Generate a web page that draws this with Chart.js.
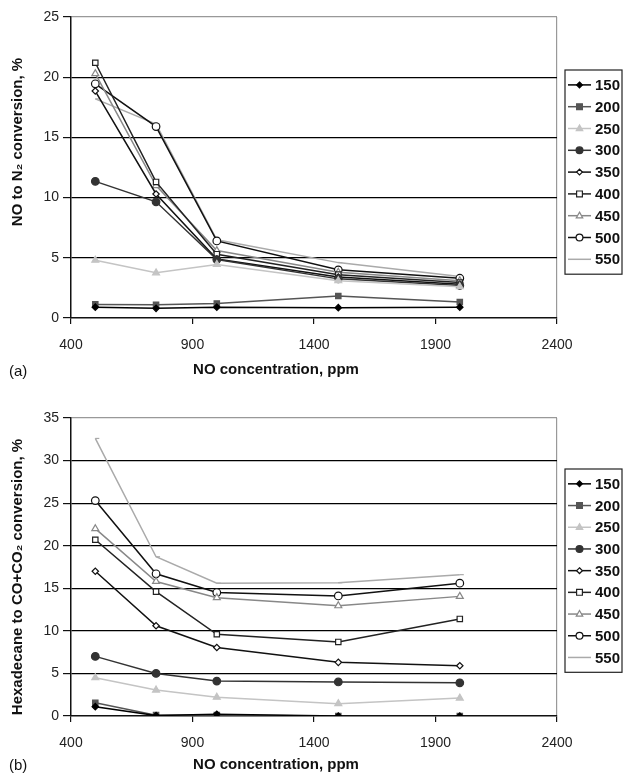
<!DOCTYPE html>
<html>
<head>
<meta charset="utf-8">
<script src="https://cdn.jsdelivr.net/npm/chart.js@4.4.1/dist/chart.umd.min.js"></script>
<style>
  body { margin: 0; background: #fff; }
  .panel { position: absolute; left: 0; width: 623px; height: 389px; }
  #panelA { top: 0; }
  #panelB { top: 389px; }
</style>
</head>
<body>
<div class="panel" id="panelA"><canvas id="chartA" width="623" height="389"></canvas></div>
<div class="panel" id="panelB"><canvas id="chartB" width="623" height="389"></canvas></div>
<script>
// data
const concentrations = [500, 750, 1000, 1500, 2000];   // NO concentration, ppm
const temperatures = ['150', '200', '250', '300', '350', '400', '450', '500', '550'];
const xTicks = [400, 900, 1400, 1900, 2400];
const yTicksA = [0, 5, 10, 15, 20, 25];
const yTicksB = [0, 5, 10, 15, 20, 25, 30, 35];

// (a) NO to N2 conversion, %
const noToN2 = {
  '150': [0.9, 0.8, 0.9, 0.86, 0.9],
  '200': [1.13, 1.1, 1.2, 1.83, 1.33],
  '250': [4.8, 3.75, 4.45, 3.1, 2.6],
  '300': [11.35, 9.65, 4.85, 3.25, 2.7],
  '350': [18.85, 10.3, 4.9, 3.4, 2.8],
  '400': [21.2, 11.3, 5.3, 3.6, 2.95],
  '450': [20.3, 11.0, 5.6, 3.8, 3.1],
  '500': [19.45, 15.9, 6.4, 4.0, 3.3],
  '550': [18.2, 16.1, 6.5, 4.6, 3.45]
};

// (b) Hexadecane to CO+CO2 conversion, %
const hexToCOx = {
  '150': [1.1, 0.05, 0.2, 0.0, 0.0],
  '200': [1.55, 0.1, 0.1, 0.0, 0.0],
  '250': [4.5, 3.05, 2.2, 1.45, 2.1],
  '300': [7.0, 5.0, 4.1, 4.0, 3.9],
  '350': [17.0, 10.6, 8.05, 6.3, 5.9],
  '400': [20.7, 14.6, 9.6, 8.7, 11.4],
  '450': [22.0, 15.8, 13.9, 12.95, 14.05],
  '500': [25.3, 16.7, 14.5, 14.1, 15.6],
  '550': [32.6, 18.7, 15.6, 15.65, 16.6]
};

// marker look of each series
const seriesStyle = {
  '150': { color: '#000', style: 'rectRot', radius: 3.2, fill: '#000' },
  '200': { color: '#555', style: 'rect', radius: 3.8, fill: '#555' },
  '250': { color: '#c4c4c4', style: 'triangle', radius: 4, fill: '#c4c4c4' },
  '300': { color: '#333', style: 'circle', radius: 3.8, fill: '#333' },
  '350': { color: '#111', style: 'rectRot', radius: 3.2, fill: '#fff' },
  '400': { color: '#222', style: 'rect', radius: 3.8, fill: '#fff' },
  '450': { color: '#888', style: 'triangle', radius: 4, fill: '#fff' },
  '500': { color: '#111', style: 'circle', radius: 3.8, fill: '#fff' },
  '550': { color: '#aaa', style: 'dash', radius: 4, fill: '#aaa' }
};

function buildDatasets(values) {
  return temperatures.map(t => ({
    label: t,
    data: concentrations.map((c, i) => ({ x: c, y: values[t][i] })),
    borderColor: seriesStyle[t].color,
    borderWidth: 1.5,
    pointStyle: seriesStyle[t].style,
    pointRadius: seriesStyle[t].radius,
    pointBackgroundColor: seriesStyle[t].fill,
    pointBorderColor: seriesStyle[t].color,
    pointBorderWidth: 1.2,
    tension: 0
  }));
}

// small marker drawer for the boxed legend
function drawMarker(ctx, style, r, x, y, fill, stroke) {
  ctx.save();
  ctx.fillStyle = fill;
  ctx.strokeStyle = stroke;
  ctx.lineWidth = 1.2;
  ctx.beginPath();
  if (style === 'circle') {
    ctx.arc(x, y, r, 0, Math.PI * 2);
  } else if (style === 'rect') {
    ctx.rect(x - r * 0.85, y - r * 0.85, r * 1.7, r * 1.7);
  } else if (style === 'rectRot') {
    ctx.moveTo(x, y - r); ctx.lineTo(x + r, y); ctx.lineTo(x, y + r); ctx.lineTo(x - r, y); ctx.closePath();
  } else if (style === 'triangle') {
    ctx.moveTo(x, y - r); ctx.lineTo(x + r * 0.9, y + r * 0.6); ctx.lineTo(x - r * 0.9, y + r * 0.6); ctx.closePath();
  } else {
    ctx.restore();
    return;
  }
  ctx.fill();
  ctx.stroke();
  ctx.restore();
}

const figureText = {
  id: 'figureText',
  afterDraw(chart, args, opts) {
    const ctx = chart.ctx;
    ctx.save();
    ctx.fillStyle = '#111';
    // y axis title
    ctx.font = 'bold 15px "Liberation Sans", Arial, sans-serif';
    ctx.textAlign = 'center';
    ctx.textBaseline = 'middle';
    ctx.save();
    ctx.translate(opts.yTitleX, opts.yTitleY);
    ctx.rotate(-Math.PI / 2);
    ctx.fillText(opts.yTitle, 0, 0);
    ctx.restore();
    // x axis title
    ctx.fillText(opts.xTitle, opts.xTitleX, opts.xTitleY);
    // panel tag
    ctx.font = '15px "Liberation Sans", Arial, sans-serif';
    ctx.textAlign = 'left';
    ctx.fillText(opts.tag, 9, opts.tagY);

    // boxed legend
    const lg = opts.legend;
    const sets = chart.data.datasets;
    ctx.strokeStyle = '#222';
    ctx.lineWidth = 1.2;
    ctx.strokeRect(lg.left, lg.top, lg.width, lg.rowH * sets.length + 8);
    sets.forEach((ds, i) => {
      const y = lg.top + 4 + lg.rowH * (i + 0.5);
      ctx.strokeStyle = ds.borderColor;
      ctx.lineWidth = 1.5;
      ctx.beginPath();
      ctx.moveTo(lg.left + 3, y);
      ctx.lineTo(lg.left + 26, y);
      ctx.stroke();
      drawMarker(ctx, ds.pointStyle, ds.pointRadius * 0.9, lg.left + 14.5, y, ds.pointBackgroundColor, ds.pointBorderColor);
      ctx.fillStyle = '#111';
      ctx.font = 'bold 15px "Liberation Sans", Arial, sans-serif';
      ctx.textAlign = 'left';
      ctx.textBaseline = 'middle';
      ctx.fillText(ds.label, lg.left + 30, y + 1);
    });
    ctx.restore();
  }
};

function makeChart(canvasId, values, yMax, yTicks, plotTop, textOpts) {
  const plotBottom = plotTop + (yMax === 25 ? 301 : 298);
  return new Chart(document.getElementById(canvasId), {
    type: 'line',
    data: { datasets: buildDatasets(values) },
    plugins: [figureText],
    options: {
      responsive: false,
      animation: false,
      devicePixelRatio: 1,
      layout: { padding: { top: plotTop, left: 0, right: 66, bottom: 0 } },
      plugins: {
        legend: { display: false },
        tooltip: { enabled: false },
        figureText: textOpts
      },
      scales: {
        x: {
          type: 'linear',
          min: 400,
          max: 2400,
          afterBuildTicks: s => { s.ticks = xTicks.map(v => ({ value: v })); },
          afterFit: s => { s.height = 389 - plotBottom; },
          ticks: {
            color: '#222',
            font: { size: 14, family: '"Liberation Sans", Arial, sans-serif' },
            padding: 13,
            maxRotation: 0,
            callback: v => String(v)
          },
          grid: {
            color: c => (c.tick && c.tick.value === 2400) ? '#999' : 'rgba(0,0,0,0)',
            tickColor: '#111',
            tickLength: 6,
            lineWidth: 1.2
          },
          border: { color: '#111', width: 1.5 }
        },
        y: {
          min: 0,
          max: yMax,
          afterBuildTicks: s => { s.ticks = yTicks.map(v => ({ value: v })); },
          afterFit: s => { s.width = 71; },
          ticks: {
            color: '#222',
            font: { size: 14, family: '"Liberation Sans", Arial, sans-serif' },
            padding: 4,
            callback: v => String(v)
          },
          grid: {
            color: c => {
              if (!c.tick) return '#000';
              if (c.tick.value === yMax) return '#999';
              if (c.tick.value === 0) return 'rgba(0,0,0,0)';
              return '#000';
            },
            tickColor: '#111',
            tickLength: 8,
            lineWidth: 1.2
          },
          border: { color: '#111', width: 1.5 }
        }
      }
    }
  });
}

makeChart('chartA', noToN2, 25, yTicksA, 17, {
  yTitle: 'NO to N\u2082 conversion, %',
  yTitleX: 18, yTitleY: 142,
  xTitle: 'NO concentration, ppm',
  xTitleX: 276, xTitleY: 370,
  tag: '(a)', tagY: 372,
  legend: { left: 565, top: 70, width: 57, rowH: 21.8 }
});

makeChart('chartB', hexToCOx, 35, yTicksB, 29, {
  yTitle: 'Hexadecane to CO+CO\u2082 conversion, %',
  yTitleX: 18, yTitleY: 188,
  xTitle: 'NO concentration, ppm',
  xTitleX: 276, xTitleY: 376,
  tag: '(b)', tagY: 377,
  legend: { left: 565, top: 80, width: 57, rowH: 21.7 }
});
</script>
</body>
</html>
